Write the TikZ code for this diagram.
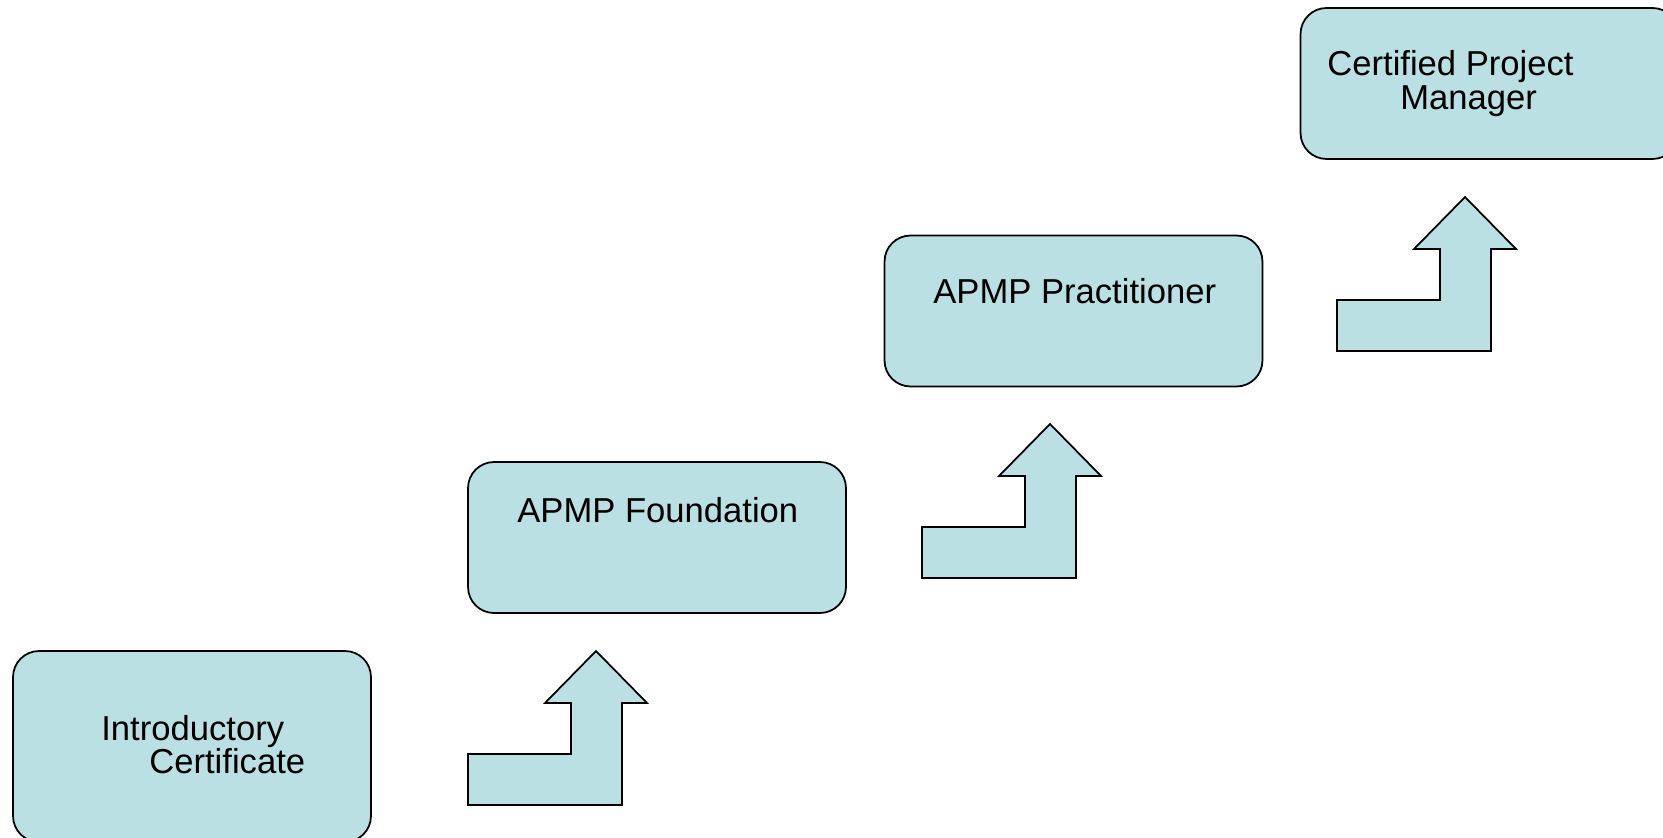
\documentclass[tikz,border=0pt]{standalone}
\usepackage{fontspec}
\setmainfont{Liberation Sans}
\definecolor{stagefill}{RGB}{187,224,227}
\tikzset{
    stagebox/.style={draw=black, fill=stagefill, line width=1pt, rounded corners=0.52cm,
        inner sep=0pt, minimum width=7.56cm, minimum height=3.02cm},
    stagetext/.style={anchor=base west, inner sep=0pt, font=\fontsize{19.7}{23}\selectfont},
    steparrow/.style={draw=black, fill=stagefill, line width=1pt, line join=miter}
}
\begin{document}
\begin{tikzpicture}[x=0.02cm, y=-0.02cm]
    \useasboundingbox (0,0) rectangle (1663,838);

    % Stages
    \node[stagebox, minimum width=7.16cm, minimum height=3.82cm] (intro) at (192,746.5) {};
    \node[stagebox] (found) at (657,537.5) {};
    \node[stagebox] (pract) at (1073.5,311) {};
    \node[stagebox] (cpm) at (1489.5,83.5) {};

    \node[stagetext] (introA) at (101,740) {Introductory};
    \node[stagetext] (introB) at (149,773) {Certificate};
    \node[stagetext] (foundT) at (517,522) {APMP Foundation};
    \node[stagetext] (practT) at (933,303) {APMP Practitioner};
    \node[stagetext] (cpmA) at (1327,76) {Certified Project};
    \node[stagetext] (cpmB) at (1400,110) {Manager};

    % Step arrows
    \foreach \ax/\ay in {468/754, 922/527, 1337/300} {
        \begin{scope}[shift={(\ax,\ay)}]
            \draw[steparrow] (0,0) -- (103,0) -- (103,-51) -- (77,-51) -- (128,-103)
                -- (179,-51) -- (154,-51) -- (154,51) -- (0,51) -- cycle;
        \end{scope}
    }
\end{tikzpicture}
\end{document}
